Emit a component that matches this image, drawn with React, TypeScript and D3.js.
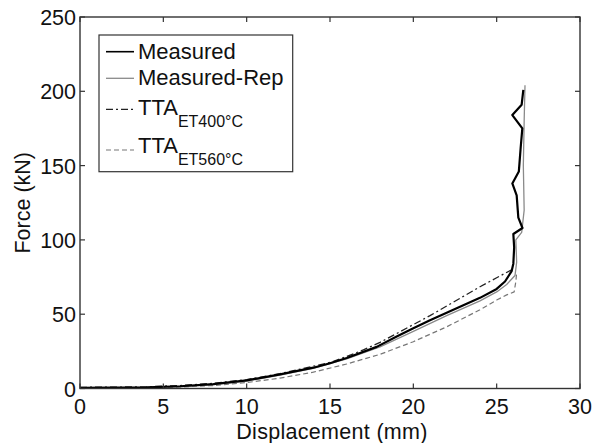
import React from "react";
import * as d3 from "d3";

const xTicks = [0, 5, 10, 15, 20, 25, 30];
const yTicks = [0, 50, 100, 150, 200, 250];

const measuredX = [0, 2, 4, 6, 8, 10, 12, 14, 15, 16, 17.8, 19, 20, 21, 22.2, 23, 24, 25, 25.5, 25.9, 26.0, 26.05, 26.0, 26.55, 26.3, 26.2, 25.94, 26.33, 26.44, 26.54, 25.94, 26.5, 26.6];
const measuredY = [0.5, 0.6, 0.8, 1.5, 3, 5.5, 9.5, 14, 17, 20.5, 28, 35, 40.5, 46, 52, 56, 61, 67, 72, 79, 84, 95, 104, 108, 115, 130, 138, 146, 162, 175, 184, 191, 201];

const repX = [0, 2, 4, 6, 8, 10, 12, 14, 16, 18, 20, 22, 24, 25, 25.6, 26.1, 26.2, 26.15, 26.5, 26.65, 26.6, 26.65, 26.7];
const repY = [0.3, 0.5, 0.7, 1.3, 2.7, 5, 9, 13.5, 20, 28, 38.5, 49, 59, 65, 70, 76, 85, 100, 105, 120, 150, 180, 204];

const tta400X = [0, 2, 4, 6, 8, 10, 12, 14, 15, 16, 17, 18, 19, 20, 21, 22, 23, 24, 25, 25.5, 26];
const tta400Y = [0.8, 0.9, 1.2, 2, 3.5, 6, 10, 15, 17.5, 21.5, 26, 31, 37, 43, 49, 55.5, 62, 68.5, 74.5, 77.5, 80.5];

const tta560X = [0, 2, 4, 6, 8, 10, 12, 14, 16, 18, 20, 22, 24, 25, 25.6, 26.05, 26.15, 26.2];
const tta560Y = [0.2, 0.3, 0.5, 1, 2, 4, 7, 11, 16.5, 23, 31.5, 41.5, 53, 59.5, 63, 65, 72, 78];

const W = 595, H = 443;
const L = 80, R = 580, T = 17, B = 388.5;
const FONT = "'Liberation Sans', Arial, sans-serif";

export default function App() {
  const x = d3.scaleLinear().domain([0, 30]).range([L, R]);
  const y = d3.scaleLinear().domain([0, 250]).range([B, T]);
  const line = d3.line<[number, number]>().x((d) => x(d[0])).y((d) => y(d[1]));
  const zip = (a: number[], b: number[]) => a.map((v, i) => [v, b[i]] as [number, number]);

  const series = [
    { name: "Measured", d: zip(measuredX, measuredY), stroke: "#000", w: 2.2, dash: undefined as string | undefined },
    { name: "Measured-Rep", d: zip(repX, repY), stroke: "#8a8a8a", w: 1.3, dash: undefined },
    { name: "TTA400", d: zip(tta400X, tta400Y), stroke: "#222", w: 1.3, dash: "7,3,2,3" },
    { name: "TTA560", d: zip(tta560X, tta560Y), stroke: "#777", w: 1.2, dash: "5,3" },
  ];
  const drawOrder = [3, 2, 1, 0];

  const legendRows = [
    { lineY: 51.7, textY: 59.3, main: "Measured", sub: "", s: series[0] },
    { lineY: 78.3, textY: 85, main: "Measured-Rep", sub: "", s: series[1] },
    { lineY: 109.3, textY: 115, main: "TTA", sub: "ET400°C", s: series[2] },
    { lineY: 150, textY: 153.3, main: "TTA", sub: "ET560°C", s: series[3] },
  ];

  return (
    <svg width={W} height={H} style={{ position: "absolute", left: 0, top: 0 }} fontFamily={FONT}>
      <rect width={W} height={H} fill="#fff" />
      <defs>
        <clipPath id="plot">
          <rect x={L} y={T} width={R - L} height={B - T} />
        </clipPath>
      </defs>
      <g clipPath="url(#plot)">
        {drawOrder.map((i) => {
          const s = series[i];
          return (
            <path key={s.name} d={line(s.d) || ""} fill="none" stroke={s.stroke} strokeWidth={s.w}
              strokeDasharray={s.dash} strokeLinejoin="round" />
          );
        })}
      </g>
      <rect x={L} y={T} width={R - L} height={B - T} fill="none" stroke="#333" strokeWidth={1.4} />
      {xTicks.map((t) => (
        <g key={"x" + t}>
          <line x1={x(t)} x2={x(t)} y1={B} y2={B - 5} stroke="#333" strokeWidth={1.2} />
          <line x1={x(t)} x2={x(t)} y1={T} y2={T + 5} stroke="#333" strokeWidth={1.2} />
          <text x={x(t)} y={414} fontSize={21.5} textAnchor="middle" fill="#111">{t}</text>
        </g>
      ))}
      {yTicks.map((t) => (
        <g key={"y" + t}>
          <line x1={L} x2={L + 5} y1={y(t)} y2={y(t)} stroke="#333" strokeWidth={1.2} />
          <line x1={R} x2={R - 5} y1={y(t)} y2={y(t)} stroke="#333" strokeWidth={1.2} />
          <text x={76} y={y(t) + 8} fontSize={21.5} textAnchor="end" fill="#111">{t}</text>
        </g>
      ))}
      <text x={332} y={439} fontSize={21.5} textAnchor="middle" fill="#111" letterSpacing={0.3}>Displacement (mm)</text>
      <text transform={`translate(30,${(T + B) / 2}) rotate(-90)`} fontSize={21.5} textAnchor="middle" fill="#111">Force (kN)</text>
      <rect x={99} y={35} width={193.7} height={136.7} fill="#fff" stroke="#333" strokeWidth={1.2} />
      {legendRows.map((r) => (
        <g key={r.s.name}>
          <line x1={106} x2={134} y1={r.lineY} y2={r.lineY} stroke={r.s.stroke} strokeWidth={Math.min(r.s.w, 1.6)}
            strokeDasharray={r.s.dash} />
          <text x={138} y={r.textY} fontSize={22} fill="#111">
            {r.main}
            {r.sub && <tspan fontSize={16} dy={12}>{r.sub}</tspan>}
          </text>
        </g>
      ))}
    </svg>
  );
}
